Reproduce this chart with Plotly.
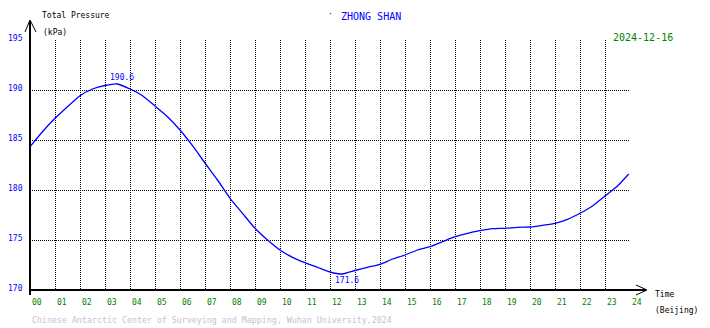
import plotly.graph_objects as go

# Total pressure over the day at Zhong Shan station (hours, Beijing time)
hours = [0, 0.5, 1, 1.5, 2, 2.5, 3, 3.5, 4, 4.5, 5, 5.5, 6, 6.5, 7, 7.5, 8, 8.5,
         9, 9.5, 10, 10.5, 11, 11.5, 12, 12.5, 13, 13.5, 14, 14.5, 15, 15.5,
         16, 16.5, 17, 17.5, 18, 18.5, 19, 19.5, 20, 20.5, 21, 21.5, 22, 22.5,
         23, 23.5, 23.95]
pressure = [184.33, 185.83, 187.17, 188.33, 189.43, 190.1, 190.45, 190.6, 190.1,
            189.43, 188.4, 187.33, 186.0, 184.43, 182.7, 181.0, 179.17, 177.67,
            176.17, 175.0, 174.0, 173.27, 172.73, 172.27, 171.8, 171.6, 171.95,
            172.27, 172.57, 173.1, 173.5, 174.0, 174.33, 174.83, 175.33, 175.67,
            175.93, 176.13, 176.17, 176.27, 176.3, 176.47, 176.67, 177.07, 177.67,
            178.4, 179.4, 180.4, 181.6]

hour_ticks = list(range(0, 25))
hour_labels = [f"{h:02d}" for h in hour_ticks]
kpa_ticks = [170, 175, 180, 185, 190, 195]
kpa_labels = [str(v) for v in kpa_ticks]

W, H = 710, 328
L, R, T, B = 30, 80, 40, 38
PW, PH = W - L - R, H - T - B
MONO = "DejaVu Sans Mono"


def px(x):
    return (x - L) / PW


def py(y):
    return (H - B - y) / PH


fig = go.Figure()
fig.add_trace(go.Scatter(
    x=hours, y=pressure, mode="lines",
    line=dict(color="#0000ff", width=1.3, shape="spline", smoothing=0.5),
    hoverinfo="skip", showlegend=False,
))

dots = "1px,1px"
fig.update_xaxes(range=[0, 24], tickvals=hour_ticks[1:], showticklabels=False,
                 showgrid=True, gridcolor="#000000", gridwidth=1, griddash=dots,
                 zeroline=False, showline=False, ticks="", fixedrange=True)
fig.update_yaxes(range=[170, 195], tickvals=kpa_ticks[1:], showticklabels=False,
                 showgrid=True, gridcolor="#000000", gridwidth=1, griddash=dots,
                 zeroline=False, showline=False, ticks="", fixedrange=True)

ann = []
# hour labels, left-aligned on each grid line
for h, lab in zip(hour_ticks, hour_labels):
    ann.append(dict(x=h, y=py(302), xref="x", yref="paper", text=lab,
                    xanchor="left", yanchor="middle", xshift=0, showarrow=False,
                    font=dict(family=MONO, size=8, color="#008000")))
# pressure labels
for v, lab in zip(kpa_ticks, kpa_labels):
    ann.append(dict(x=px(25), y=v, xref="paper", yref="y", text=lab,
                    xanchor="right", yanchor="middle", yshift=2, showarrow=False,
                    font=dict(family=MONO, size=8, color="#0000ff")))

# max / min values
imax = pressure.index(max(pressure))
imin = pressure.index(min(pressure))
ann.append(dict(x=hours[imax], y=pressure[imax], xref="x", yref="y",
                text=f"{pressure[imax]:.1f}", xanchor="center", yanchor="bottom",
                xshift=4, yshift=0, showarrow=False,
                font=dict(family=MONO, size=8, color="#0000ff")))
ann.append(dict(x=hours[imin], y=pressure[imin], xref="x", yref="y",
                text=f"{pressure[imin]:.1f}", xanchor="center", yanchor="top",
                xshift=4, yshift=0, showarrow=False,
                font=dict(family=MONO, size=8, color="#0000ff")))

texts = [
    (40, 16, "Total Pressure", "#000000", 8, "left"),
    (41, 33, "(kPa)", "#000000", 8, "left"),
    (339, 17, "ZHONG SHAN", "#0000ff", 10, "left"),
    (330, 15, "·", "#0000ff", 8, "center"),
    (611, 37, "2024-12-16", "#008000", 10, "left"),
    (653, 294, "Time", "#000000", 8, "left"),
    (653, 310, "(Beijing)", "#000000", 8, "left"),
    (30, 320, "Chinese Antarctic Center of Surveying and Mapping, Wuhan University,2024",
     "#c4c4c4", 8.3, "left"),
]
for x, y, t, c, s, a in texts:
    ann.append(dict(x=px(x), y=py(y), xref="paper", yref="paper", text=t,
                    xanchor=a, yanchor="middle", showarrow=False,
                    font=dict(family=MONO, size=s, color=c)))

axis_line = dict(color="#000000", width=2)
thin = dict(color="#000000", width=1)
shapes = [
    # x axis with open arrowhead
    dict(type="line", xref="paper", yref="paper", x0=px(30), y0=py(290),
         x1=px(646), y1=py(290), line=axis_line),
    dict(type="path", xref="paper", yref="paper",
         path=f"M {px(636)} {py(285)} L {px(647)} {py(290)} L {px(636)} {py(295)}",
         line=thin),
    # y axis with open arrowhead
    dict(type="line", xref="paper", yref="paper", x0=px(30), y0=py(295),
         x1=px(30), y1=py(21), line=axis_line),
    dict(type="path", xref="paper", yref="paper",
         path=f"M {px(25)} {py(32)} L {px(30)} {py(20)} L {px(36)} {py(32)}",
         line=thin),
]

fig.update_layout(
    width=W, height=H,
    margin=dict(l=L, r=R, t=T, b=B, pad=0),
    paper_bgcolor="#ffffff", plot_bgcolor="#ffffff",
    annotations=ann, shapes=shapes, showlegend=False,
)

fig.write_html("out.html", config={"displayModeBar": False, "staticPlot": True})
